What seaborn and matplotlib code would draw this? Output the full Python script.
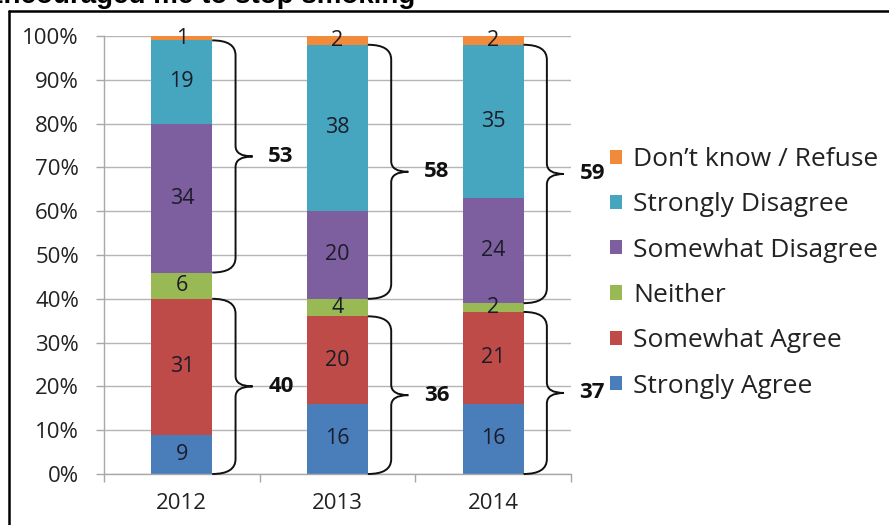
import matplotlib
matplotlib.use("Agg")
import matplotlib.pyplot as plt
import seaborn as sns
import numpy as np
import pandas as pd
from matplotlib.path import Path
from matplotlib.patches import PathPatch, Patch
from matplotlib.lines import Line2D

# Survey responses (percent) per year
years = ["2012", "2013", "2014"]
strongly_agree = [9, 16, 16]
somewhat_agree = [31, 20, 21]
neither = [6, 4, 2]
somewhat_disagree = [34, 20, 24]
strongly_disagree = [19, 38, 35]
dont_know = [1, 2, 2]

responses = ["Strongly Agree", "Somewhat Agree", "Neither",
             "Somewhat Disagree", "Strongly Disagree", "Don\u2019t know / Refuse"]
colors = ["#4A7EBB", "#BE4B48", "#98B954", "#7D5FA0", "#46A5BF", "#F28A3C"]
series = [strongly_agree, somewhat_agree, neither,
          somewhat_disagree, strongly_disagree, dont_know]

sns.set_theme(style="white")
plt.rcParams["font.family"] = ["Open Sans", "DejaVu Sans"]

W, H = 889, 525
fig = plt.figure(figsize=(W / 100, H / 100), dpi=100)
ax = fig.add_axes([104 / W, 51 / H, 467 / W, 438 / H])

# long-form table with cumulative tops for stacking
vals = np.array(series, dtype=float)
tops = np.cumsum(vals, axis=0)
bottoms = tops - vals
rows = []
for i, name in enumerate(responses):
    for j, yr in enumerate(years):
        rows.append({"year": yr, "response": name, "value": vals[i, j],
                     "top": tops[i, j], "bottom": bottoms[i, j]})
df = pd.DataFrame(rows)

BAR_W = 0.39
# draw from the top-most layer down so each lower layer covers the one above
for name, col in reversed(list(zip(responses, colors))):
    sub = df[df["response"] == name]
    sns.barplot(data=sub, x="year", y="top", order=years, color=col,
                saturation=1, width=BAR_W, errorbar=None, ax=ax,
                linewidth=0, zorder=2)

# value labels inside segments
for _, r in df.iterrows():
    x = years.index(r["year"])
    ax.text(x, (r["top"] + r["bottom"]) / 2, f"{int(r['value'])}",
            ha="center", va="center", fontsize=15.5, color="#1c1c28", zorder=4)


def brace(x_edge, y0, y1, label):
    xv = x_edge + 0.15
    xt = x_edge + 0.26
    ym = (y0 + y1) / 2
    re = min(3.4, (y1 - y0) / 5)
    rm = min(2.4, (y1 - y0) / 6)
    verts = [(x_edge, y1), (xv, y1), (xv, y1 - re),
             (xv, ym + rm),
             (xv, ym), (xt, ym),
             (xv, ym), (xv, ym - rm),
             (xv, y0 + re),
             (xv, y0), (x_edge, y0)]
    codes = [Path.MOVETO, Path.CURVE3, Path.CURVE3,
             Path.LINETO,
             Path.CURVE3, Path.CURVE3,
             Path.CURVE3, Path.CURVE3,
             Path.LINETO,
             Path.CURVE3, Path.CURVE3]
    ax.add_patch(PathPatch(Path(verts, codes), facecolor="none",
                           edgecolor="#111111", lw=1.4, zorder=3,
                           clip_on=False))
    ax.text(xt + 0.1, ym, label, ha="left", va="center", fontsize=16,
            fontweight="bold", color="#111111", zorder=4, clip_on=False)


agree_tot = tops[1]
disagree_lo = tops[2]
disagree_hi = tops[4]
for j in range(len(years)):
    edge = j + BAR_W / 2
    brace(edge, disagree_lo[j], disagree_hi[j],
          f"{int(disagree_hi[j] - disagree_lo[j])}")
    brace(edge, 0, agree_tot[j], f"{int(agree_tot[j])}")

# axes styling
ax.set_xlim(-0.5, 2.5)
ax.set_ylim(0, 100)
ax.set_yticks(np.arange(0, 101, 10))
ax.set_yticklabels([f"{v}%" for v in range(0, 101, 10)])
ax.set_xticks(range(len(years)))
ax.set_xticklabels(years)
ax.set_xticks([-0.5, 0.5, 1.5, 2.5], minor=True)
ax.set_xlabel("")
ax.set_ylabel("")
ax.yaxis.grid(True, color="#b5b5b5", lw=1)
ax.xaxis.grid(False)
ax.set_axisbelow(True)
for s in ["top", "right"]:
    ax.spines[s].set_visible(False)
for s in ["left", "bottom"]:
    ax.spines[s].set_color("#a8a8a8")
    ax.spines[s].set_linewidth(1)
ax.tick_params(axis="y", which="major", length=6, width=1, color="#a8a8a8",
               pad=12, labelsize=16, labelcolor="#222222", left=True)
ax.tick_params(axis="x", which="major", length=0, pad=14, labelsize=16,
               labelcolor="#222222")
ax.tick_params(axis="x", which="minor", length=6, width=1, color="#a8a8a8",
               bottom=True)

# legend, top entry first
handles = [Patch(facecolor=c, edgecolor="none") for c in reversed(colors)]
fig.legend(handles, list(reversed(responses)), loc="upper left",
           bbox_to_anchor=(610 / W, 1 - 147 / H), frameon=False,
           borderaxespad=0, borderpad=0, fontsize=19, handlelength=0.45,
           handleheight=0.45, handletextpad=0.42, labelspacing=0.77,
           labelcolor="#222222")

# title (runs past the top edge) and frame
fig.text(415 / W, 1 - 3 / H, "Encouraged me to stop smoking", ha="right",
         va="baseline", fontsize=20, fontweight="bold",
         family=["Liberation Sans", "DejaVu Sans"], color="black")
fig.add_artist(Line2D([9 / W, 1.0], [1 - 11 / H, 1 - 11 / H],
                      transform=fig.transFigure, color="black", lw=1.8))
fig.add_artist(Line2D([9 / W, 9 / W], [0, 1 - 11 / H],
                      transform=fig.transFigure, color="black", lw=1.8))

fig.savefig("out.png", dpi=100, facecolor="white")
